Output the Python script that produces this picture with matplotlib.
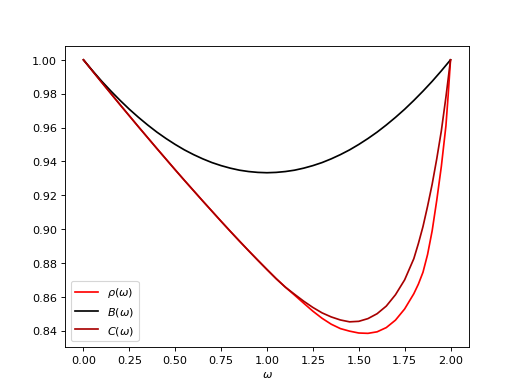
import numpy as np
import matplotlib
matplotlib.use("Agg")
import matplotlib.pyplot as plt

# B(omega), read at 0.05 steps (the curve is symmetric about omega = 1)
w_b = [0.0, 0.05, 0.1, 0.15, 0.2, 0.25, 0.3, 0.35, 0.4, 0.45, 0.5,
       0.55, 0.6, 0.65, 0.7, 0.75, 0.8, 0.85, 0.9, 0.95, 1.0,
       1.05, 1.1, 1.15, 1.2, 1.25, 1.3, 1.35, 1.4, 1.45, 1.5,
       1.55, 1.6, 1.65, 1.7, 1.75, 1.8, 1.85, 1.9, 1.95, 2.0]
b_vals = [1.000, 0.9935, 0.9873, 0.9815, 0.9760, 0.9708, 0.9660, 0.9615, 0.9573, 0.9535, 0.9500,
          0.9468, 0.9440, 0.9415, 0.9393, 0.9375, 0.9360, 0.9348, 0.9340, 0.9335, 0.9333,
          0.9335, 0.9340, 0.9348, 0.9360, 0.9375, 0.9393, 0.9415, 0.9440, 0.9468, 0.9500,
          0.9535, 0.9573, 0.9615, 0.9660, 0.9708, 0.9760, 0.9815, 0.9873, 0.9935, 1.000]

# rho(omega) and C(omega), finer near the right end
w_rc = [0.0, 0.05, 0.1, 0.15, 0.2, 0.25, 0.3, 0.35, 0.4, 0.45, 0.5,
        0.55, 0.6, 0.65, 0.7, 0.75, 0.8, 0.85, 0.9, 0.95, 1.0,
        1.05, 1.1, 1.15, 1.2, 1.25, 1.3, 1.35, 1.4, 1.45, 1.5,
        1.55, 1.6, 1.65, 1.7, 1.75, 1.8, 1.825, 1.85, 1.875, 1.9,
        1.925, 1.95, 1.975, 1.9875, 2.0]
rho_vals = [1.000, 0.9933, 0.9866, 0.9800, 0.9734, 0.9669, 0.9604, 0.9540, 0.9476, 0.9413, 0.9350,
            0.9288, 0.9227, 0.9166, 0.9106, 0.9046, 0.8987, 0.8929, 0.8872, 0.8816, 0.8761,
            0.8707, 0.8657, 0.8610, 0.8562, 0.8515, 0.8473, 0.8438, 0.8412, 0.8397, 0.8386,
            0.8384, 0.8393, 0.8418, 0.8462, 0.8528, 0.8618, 0.8675, 0.8745, 0.8850, 0.8990,
            0.9170, 0.9370, 0.9610, 0.9795, 1.000]
c_vals = [1.000, 0.9933, 0.9866, 0.9800, 0.9734, 0.9669, 0.9604, 0.9540, 0.9476, 0.9413, 0.9350,
          0.9288, 0.9227, 0.9166, 0.9106, 0.9046, 0.8987, 0.8929, 0.8872, 0.8816, 0.8761,
          0.8707, 0.8657, 0.8615, 0.8574, 0.8537, 0.8505, 0.8481, 0.8463, 0.8452, 0.8455,
          0.8471, 0.8500, 0.8545, 0.8612, 0.8700, 0.8825, 0.8915, 0.9015, 0.9135, 0.9265,
          0.9415, 0.9580, 0.9780, 0.9890, 1.000]

plt.figure(figsize=(6.4, 4.8), dpi=81.4)
plt.plot(w_rc, rho_vals, color="red", label=r"$\rho(\omega)$")
plt.plot(w_b, b_vals, color="black", label=r"$B(\omega)$")
plt.plot(w_rc, c_vals, color="#a80000", label=r"$C(\omega)$")  # 어두운 빨강
plt.xlabel(r"$\omega$")
plt.legend(loc="lower left")
plt.savefig("out.png")
